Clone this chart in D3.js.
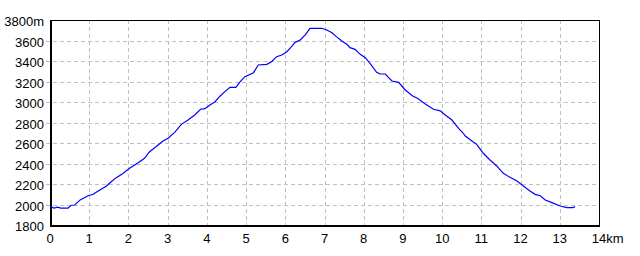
<html>
<head>
<meta charset="utf-8" />
<title>Elevation profile</title>
<script src="https://cdn.jsdelivr.net/npm/d3@7"></script>
<style type="text/css">
	body{ margin: 0; background: #fff; }
	svg text{ font-family: "Liberation Sans", Arial, sans-serif; font-size: 13px; fill: #000; }
</style>
</head>
<body>
<div id="chart"></div>
<script type="text/javascript">
	// distance along the route (km) and elevation (m)
	var distKm = [0.00,0.10,0.20,0.27,0.46,0.53,0.63,0.77,0.97,1.10,1.22,1.44,1.56,1.69,1.84,2.03,2.23,2.41,2.54,2.67,2.88,3.01,3.18,3.35,3.52,3.69,3.84,3.95,4.08,4.21,4.34,4.46,4.59,4.74,4.85,4.97,5.19,5.31,5.53,5.65,5.78,5.91,6.04,6.16,6.25,6.38,6.51,6.63,6.93,7.06,7.19,7.31,7.44,7.57,7.65,7.78,7.91,8.04,8.16,8.33,8.42,8.55,8.72,8.89,9.06,9.25,9.37,9.57,9.78,9.95,10.08,10.25,10.42,10.54,10.59,10.76,10.88,11.05,11.22,11.39,11.56,11.73,11.91,12.07,12.24,12.37,12.50,12.63,12.80,13.01,13.18,13.33,13.39];
	var elevM = [1983,1965,1975,1965,1965,1990,1995,2045,2085,2100,2130,2180,2222,2262,2298,2353,2402,2451,2515,2554,2620,2646,2704,2782,2824,2873,2929,2935,2971,3003,3059,3101,3143,3143,3198,3247,3286,3361,3367,3393,3442,3459,3491,3540,3582,3605,3654,3719,3719,3702,3676,3635,3595,3563,3530,3514,3465,3432,3377,3290,3273,3273,3205,3192,3117,3059,3036,2980,2929,2914,2873,2824,2743,2695,2668,2620,2587,2500,2434,2376,2304,2265,2229,2180,2132,2099,2086,2044,2018,1985,1969,1969,1979];

	var xTicks = [0,1,2,3,4,5,6,7,8,9,10,11,12,13,14];
	var yTicks = [1800,2000,2200,2400,2600,2800,3000,3200,3400,3600,3800];

	var W = 640, H = 256;
	var pLeft = 50, pRight = 599, pTop = 20, pBottom = 225;

	var x = d3.scaleLinear().domain([0,14]).range([pLeft,pRight]);
	var y = d3.scaleLinear().domain([1800,3800]).range([pBottom,pTop]);

	var svg = d3.select('#chart').append('svg')
		.attr('width', W)
		.attr('height', H);

	svg.append('rect').attr('width', W).attr('height', H).attr('fill', '#fff');

	// grid
	var grid = svg.append('g')
		.attr('stroke', '#c0c0c0')
		.attr('stroke-dasharray', '4,3')
		.attr('shape-rendering', 'crispEdges');

	grid.selectAll('line.v')
		.data(xTicks.slice(1, -1))
		.enter().append('line')
		.attr('class', 'v')
		.attr('x1', function(d){ return Math.round(x(d)) + 0.5; })
		.attr('x2', function(d){ return Math.round(x(d)) + 0.5; })
		.attr('y1', pTop)
		.attr('y2', pBottom);

	grid.selectAll('line.h')
		.data(yTicks.slice(1, -1))
		.enter().append('line')
		.attr('class', 'h')
		.attr('x1', pLeft - 4)
		.attr('x2', pRight)
		.attr('y1', function(d){ return Math.round(y(d)) + 0.5; })
		.attr('y2', function(d){ return Math.round(y(d)) + 0.5; });

	// frame
	svg.append('rect')
		.attr('x', pLeft + 0.5)
		.attr('y', pTop + 0.5)
		.attr('width', pRight - pLeft)
		.attr('height', pBottom - pTop)
		.attr('fill', 'none')
		.attr('stroke', '#000')
		.attr('stroke-width', 1)
		.attr('shape-rendering', 'crispEdges');
	svg.append('line')
		.attr('x1', pLeft + 0.5).attr('x2', pLeft + 0.5)
		.attr('y1', pTop).attr('y2', pBottom + 1)
		.attr('stroke', '#000').attr('stroke-width', 2)
		.attr('shape-rendering', 'crispEdges');
	svg.append('line')
		.attr('x1', pLeft).attr('x2', pRight + 1)
		.attr('y1', pBottom + 0.5).attr('y2', pBottom + 0.5)
		.attr('stroke', '#000').attr('stroke-width', 2)
		.attr('shape-rendering', 'crispEdges');

	// y labels
	svg.selectAll('text.yl')
		.data(yTicks)
		.enter().append('text')
		.attr('class', 'yl')
		.attr('x', pLeft - 6)
		.attr('y', function(d){ return y(d) + 6; })
		.attr('text-anchor', 'end')
		.text(function(d, i){ return i == yTicks.length - 1 ? d + 'm' : d; });

	// x labels, number centred on tick, unit hanging after it
	svg.selectAll('text.xl')
		.data(xTicks)
		.enter().append('text')
		.attr('class', 'xl')
		.attr('y', pBottom + 18)
		.text(function(d){ return d; })
		.each(function(d, i){
			var w = this.getComputedTextLength();
			d3.select(this).attr('x', x(d) - w / 2);
			if (i == xTicks.length - 1) d3.select(this).text(d + 'km');
		});

	// profile
	var line = d3.line()
		.x(function(d, i){ return x(distKm[i]); })
		.y(function(d){ return y(d); });

	svg.append('path')
		.datum(elevM)
		.attr('d', line)
		.attr('fill', 'none')
		.attr('stroke', '#0000ff')
		.attr('stroke-width', 1.2);
</script>
</body>
</html>
